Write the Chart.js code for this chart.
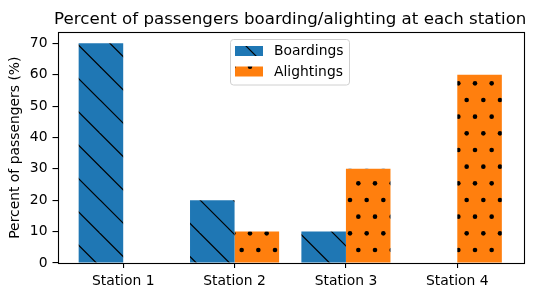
<!DOCTYPE html>
<html>
<head>
<meta charset="utf-8">
<script src="https://cdn.jsdelivr.net/npm/chart.js@4"></script>
<style>
  html, body { margin: 0; padding: 0; background: #fff; }
  #wrap { width: 534px; height: 297px; position: relative; }
</style>
</head>
<body>
<div id="wrap"><canvas id="chart" width="534" height="297"></canvas></div>
<script>
// chart data
const stations = ['Station 1', 'Station 2', 'Station 3', 'Station 4'];
const boardings = [70, 20, 10, 0];
const alightings = [0, 10, 30, 60];
const yTicks = [0, 10, 20, 30, 40, 50, 60, 70];

const titleText = 'Percent of passengers boarding/alighting at each station';
const yLabel = 'Percent of passengers (%)';
const FONT = 'DejaVu Sans';

// hatch patterns, 100px tiles anchored to the canvas origin like matplotlib
function makeLines(color) {
    const c = document.createElement('canvas');
    c.width = 100; c.height = 100;
    const g = c.getContext('2d');
    g.fillStyle = color;
    g.fillRect(0, 0, 100, 100);
    g.strokeStyle = '#000';
    g.lineWidth = 1.2;
    for (let k = -3; k <= 3; k++) {
        const off = k * 100 / 3;
        g.beginPath();
        g.moveTo(-10, -10 + off);
        g.lineTo(110, 110 + off);
        g.stroke();
    }
    return g.createPattern(c, 'repeat');
}

function makeDots(color) {
    const c = document.createElement('canvas');
    c.width = 100; c.height = 100;
    const g = c.getContext('2d');
    g.fillStyle = color;
    g.fillRect(0, 0, 100, 100);
    g.fillStyle = '#000';
    const s = 100 / 6;
    for (let j = -1; j <= 3; j++) {
        for (let i = -1; i <= 6; i++) {
            [[i * s, j * 2 * s], [i * s + s / 2, j * 2 * s + s]].forEach(p => {
                g.beginPath();
                g.arc(p[0], p[1], 2.3, 0, Math.PI * 2);
                g.fill();
            });
        }
    }
    return g.createPattern(c, 'repeat');
}

const bluePat = makeLines('#1f77b4');
const orangePat = makeDots('#ff7f0e');

// frame, title and legend drawn in matplotlib style
const decor = {
    id: 'decor',
    afterDraw(chart) {
        const ctx = chart.ctx;
        const a = chart.chartArea;
        ctx.save();
        ctx.strokeStyle = '#000';
        ctx.lineWidth = 1.1;
        ctx.strokeRect(Math.round(a.left) + 0.5, Math.round(a.top) + 0.5,
            Math.round(a.right - a.left), Math.round(a.bottom - a.top));

        ctx.fillStyle = '#000';
        ctx.font = '16.67px "' + FONT + '"';
        ctx.textAlign = 'center';
        ctx.textBaseline = 'alphabetic';
        ctx.fillText(titleText, (a.left + a.right) / 2, 24);

        // legend
        const lx = 230.5, ly = 39.5, lw = 119, lh = 45.5;
        ctx.fillStyle = 'rgba(255,255,255,0.8)';
        ctx.strokeStyle = '#d0d0d0';
        ctx.lineWidth = 1;
        ctx.beginPath();
        ctx.roundRect(lx, ly, lw, lh, 3);
        ctx.fill();
        ctx.stroke();
        const items = [[bluePat, 'Boardings'], [orangePat, 'Alightings']];
        ctx.font = '13.89px "' + FONT + '"';
        ctx.textAlign = 'left';
        ctx.textBaseline = 'middle';
        items.forEach((it, i) => {
            const y = 46 + i * 20.5;
            ctx.fillStyle = it[0];
            ctx.fillRect(235, y, 28, 10);
            ctx.fillStyle = '#000';
            ctx.fillText(it[1], 274, y + 5.5);
        });
        ctx.restore();
    }
};

new Chart(document.getElementById('chart'), {
    type: 'bar',
    data: {
        datasets: [
            {
                label: 'Boardings',
                data: boardings.map((v, i) => ({ x: i, y: v })),
                backgroundColor: bluePat,
                borderWidth: 0
            },
            {
                label: 'Alightings',
                data: alightings.map((v, i) => ({ x: i, y: v })),
                backgroundColor: orangePat,
                borderWidth: 0
            }
        ]
    },
    options: {
        responsive: false,
        animation: false,
        categoryPercentage: 0.8,
        barPercentage: 1.0,
        layout: { padding: { top: 32.3, right: 11, bottom: 0, left: 0 } },
        plugins: {
            legend: { display: false },
            tooltip: { enabled: false }
        },
        scales: {
            x: {
                type: 'linear',
                min: -0.59,
                max: 3.59,
                offset: false,
                afterBuildTicks: s => { s.ticks = stations.map((c, i) => ({ value: i })); },
                afterFit: s => { s.height = 34; },
                grid: { offset: false, drawOnChartArea: false, color: '#000', lineWidth: 1.1, tickLength: 5 },
                border: { display: false },
                ticks: {
                    callback: v => stations[v],
                    color: '#000',
                    padding: 5,
                    maxRotation: 0,
                    autoSkip: false,
                    font: { family: FONT, size: 13.89 }
                }
            },
            y: {
                min: 0,
                max: 73.5,
                afterBuildTicks: s => { s.ticks = yTicks.map(v => ({ value: v })); },
                afterFit: s => { s.width = 57.5; },
                grid: { drawOnChartArea: false, color: '#000', lineWidth: 1.1, tickLength: 5 },
                border: { display: false },
                title: {
                    display: true,
                    text: yLabel,
                    color: '#000',
                    padding: { top: 6.7, bottom: 0 },
                    font: { family: FONT, size: 13.89 }
                },
                ticks: {
                    color: '#000',
                    padding: 5,
                    font: { family: FONT, size: 13.89 }
                }
            }
        }
    },
    plugins: [decor]
});
</script>
</body>
</html>
